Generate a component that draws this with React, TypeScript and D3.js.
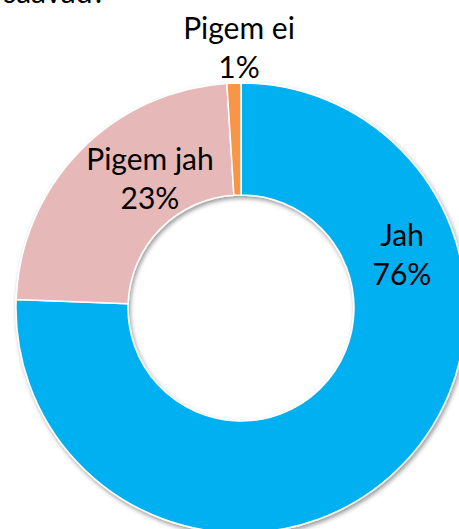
import React from "react";
import * as d3 from "d3";

const categories = ["Jah", "Pigem jah", "Pigem ei"];
const values = [75.6, 23.4, 1.0];
const percentLabels = ["76%", "23%", "1%"];
const colors = ["#00B0F0", "#E6B9B8", "#F79646"];

const W = 459;
const H = 529;
const cx = 241;
const cy = 308;
const R = 225;
const r = 113;

// label anchor positions (centre x, baseline of first line)
const labelPos: [number, number][] = [
  [402, 246],
  [150, 170],
  [239, 39],
];

export default function App() {
  const pie = d3
    .pie<number>()
    .sort(null)
    .value((d) => d)
    .startAngle(0)
    .endAngle(2 * Math.PI);
  const arcs = pie(values);
  const arcGen = d3.arc<d3.PieArcDatum<number>>().innerRadius(r).outerRadius(R);
  const font = "Lato, 'Open Sans', sans-serif";
  return (
    <svg
      width={W}
      height={H}
      style={{ position: "absolute", left: 0, top: 0, background: "#fff" }}
    >
      <defs>
        <filter id="sh" x="-10%" y="-10%" width="120%" height="120%">
          <feDropShadow dx="1.5" dy="2.5" stdDeviation="2" floodColor="#000" floodOpacity="0.4" />
        </filter>
      </defs>
      <text x={106} y={3} textAnchor="end" fontFamily={font} fontSize={30} fill="#000">
        saavad?
      </text>
      <g transform={`translate(${cx},${cy})`} filter="url(#sh)">
        {arcs.map((a, i) => (
          <path key={categories[i]} d={arcGen(a) || ""} fill={colors[i]} stroke="#fff" strokeWidth={1.5} />
        ))}
      </g>
      {categories.map((c, i) => (
        <text
          key={c}
          x={labelPos[i][0]}
          y={labelPos[i][1]}
          textAnchor="middle"
          fontFamily={font}
          fontSize={30}
          fill="#000"
        >
          <tspan x={labelPos[i][0]}>{c}</tspan>
          <tspan x={labelPos[i][0]} dy={39}>
            {percentLabels[i]}
          </tspan>
        </text>
      ))}
    </svg>
  );
}
